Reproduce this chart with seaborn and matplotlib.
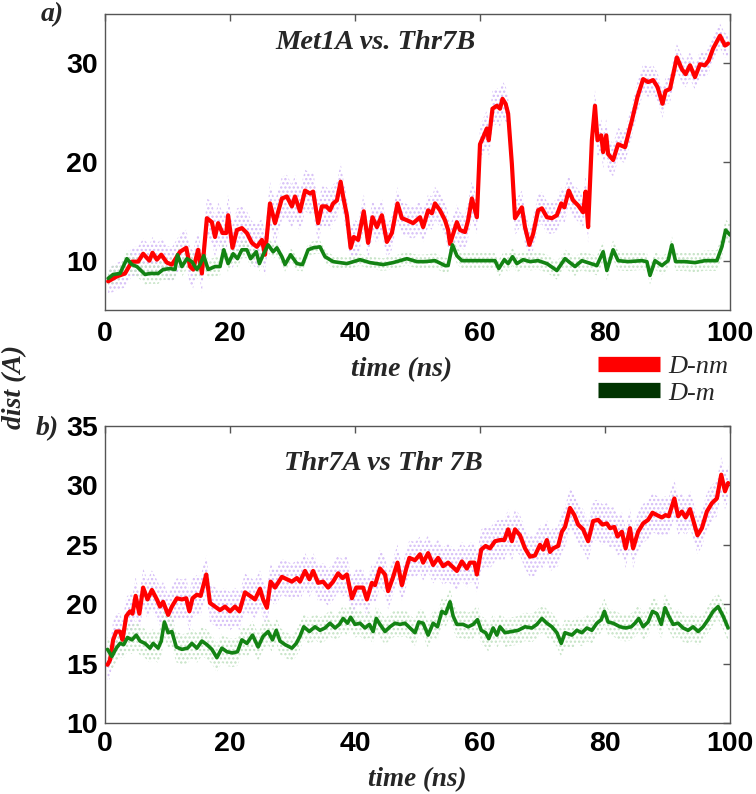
import matplotlib
matplotlib.use('Agg')
import matplotlib.pyplot as plt
import numpy as np
import seaborn as sns
from matplotlib.lines import Line2D

# ---- data (time in ns, distance in A) ----
# panel a) Met1A vs. Thr7B, running average of D-nm (red)
top_nm_t = [
    0.5, 1.9, 3.2, 4.3, 5.3, 6.1, 7.1, 7.6, 8.3, 9.0,
    9.9, 10.7, 12.0, 13.0, 13.6, 14.1, 14.9, 15.5, 16.3, 17.1,
    17.6, 18.1, 18.8, 19.4, 19.7, 20.4, 21.1, 21.9, 22.7, 23.5,
    24.3, 25.1, 25.6, 26.4, 27.2, 28.3, 29.1, 29.9, 30.4, 31.2,
    32.0, 32.8, 33.3, 34.1, 34.7, 35.4, 36.0, 36.5, 37.1, 37.7,
    38.1, 38.7, 39.3, 39.8, 40.5, 41.4, 42.1, 42.8, 43.5, 44.3,
    45.1, 45.9, 46.8, 47.5, 48.3, 49.3, 50.4, 50.9, 51.7, 52.3,
    52.8, 53.6, 54.4, 54.9, 55.2, 55.7, 56.3, 56.8, 57.6, 58.1,
    58.7, 59.5, 60.0, 60.5, 61.1, 61.4, 62.0, 62.7, 63.2, 63.6,
    64.1, 64.5, 65.1, 65.6, 66.1, 66.7, 67.2, 67.9, 68.5, 69.3,
    69.9, 70.7, 71.5, 72.3, 73.0, 73.5, 74.2, 74.9, 75.7, 76.5,
    76.9, 77.3, 77.9, 78.4, 78.8, 79.4, 79.7, 80.2, 80.5, 81.3,
    82.1, 83.2, 84.3, 85.2, 86.1, 86.9, 87.7, 88.4, 89.2, 89.7,
    90.4, 91.5, 92.3, 92.9, 93.6, 94.4, 95.2, 96.0, 96.6, 97.3,
    98.4, 99.2, 99.7]
top_nm_d = [
    7.9, 8.4, 8.7, 9.9, 9.9, 10.7, 10.0, 10.8, 10.1, 10.6,
    9.8, 9.6, 10.9, 11.3, 9.4, 9.1, 11.1, 8.7, 14.3, 13.9,
    12.4, 13.8, 12.8, 12.8, 14.6, 11.3, 13.1, 13.3, 12.8, 11.8,
    11.4, 12.1, 10.6, 15.8, 13.8, 16.3, 16.5, 15.5, 16.5, 15.0,
    17.1, 16.8, 17.0, 13.8, 15.5, 15.5, 15.1, 15.8, 16.1, 18.0,
    16.5, 14.6, 11.3, 12.4, 12.1, 15.0, 11.8, 14.4, 13.4, 14.6,
    11.9, 12.8, 15.8, 14.3, 14.1, 13.8, 14.4, 13.4, 15.1, 14.8,
    15.8, 15.1, 14.1, 13.1, 11.7, 12.7, 13.9, 13.1, 12.9, 14.1,
    16.3, 14.4, 21.8, 22.5, 23.4, 22.2, 25.4, 25.7, 25.4, 26.4,
    25.9, 24.9, 19.8, 14.3, 14.8, 15.4, 13.4, 11.6, 12.7, 15.1,
    15.3, 14.4, 14.3, 14.6, 15.8, 15.4, 17.1, 16.1, 15.6, 14.9,
    17.0, 13.4, 22.2, 25.7, 22.2, 22.7, 21.0, 22.7, 20.8, 20.2,
    21.8, 21.5, 24.2, 26.6, 28.4, 28.1, 28.3, 27.6, 25.9, 27.2,
    27.4, 30.6, 29.4, 28.9, 29.8, 28.6, 29.9, 29.8, 30.3, 31.5,
    32.8, 31.8, 32.0]

# panel a) D-m (green)
top_m_t = [
    0.5, 1.3, 2.4, 3.5, 4.3, 5.1, 5.6, 6.4, 7.2, 8.5,
    9.3, 10.4, 11.2, 11.6, 12.3, 13.1, 13.9, 14.7, 15.2, 15.8,
    16.5, 17.6, 18.4, 19.0, 19.7, 20.5, 21.2, 21.9, 22.7, 23.3,
    24.2, 24.7, 25.3, 26.1, 26.9, 27.5, 28.3, 28.8, 29.7, 30.7,
    31.6, 32.5, 33.3, 34.4, 35.2, 36.5, 38.7, 40.8, 42.4, 44.5,
    46.1, 48.3, 49.9, 51.2, 52.8, 54.4, 54.9, 55.6, 56.3, 57.1,
    58.9, 60.8, 62.4, 63.0, 63.9, 64.5, 65.2, 65.9, 66.9, 68.0,
    69.3, 70.7, 72.3, 73.6, 75.2, 76.3, 78.7, 79.7, 80.3, 81.3,
    82.1, 83.7, 85.9, 86.7, 87.2, 88.0, 89.1, 90.1, 90.7, 91.3,
    92.8, 94.4, 96.0, 97.9, 98.7, 99.3, 100.0]
top_m_d = [
    8.2, 8.6, 8.7, 10.2, 9.6, 9.4, 9.1, 8.6, 8.7, 8.7,
    9.1, 9.2, 9.1, 10.6, 9.4, 10.2, 9.9, 9.1, 9.6, 10.5,
    9.1, 9.4, 9.4, 11.1, 9.7, 10.7, 10.2, 11.1, 11.1, 10.2,
    10.9, 9.7, 10.6, 11.6, 10.9, 11.3, 10.4, 9.6, 10.6, 9.7,
    9.6, 11.1, 11.3, 11.4, 10.4, 9.9, 9.7, 10.1, 9.8, 9.6,
    9.8, 10.2, 9.9, 9.9, 10.0, 9.5, 9.5, 11.6, 10.5, 10.0,
    10.0, 10.0, 10.0, 9.2, 10.1, 9.7, 10.4, 9.7, 10.1, 9.9,
    10.0, 9.7, 9.0, 10.2, 9.4, 10.0, 9.5, 10.9, 9.0, 11.1,
    10.0, 9.9, 10.0, 9.9, 8.5, 10.0, 9.5, 10.0, 11.6, 9.9,
    9.9, 9.8, 10.0, 10.0, 11.4, 13.1, 12.6]

# panel b) Thr7A vs Thr 7B, D-nm (red)
bot_nm_t = [
    0.4, 0.8, 1.3, 1.8, 2.4, 2.8, 3.4, 4.0, 4.4, 4.9,
    5.5, 6.1, 6.8, 7.5, 8.3, 8.8, 9.3, 10.1, 10.7, 11.5,
    12.3, 13.0, 13.5, 14.0, 14.7, 15.3, 16.2, 16.8, 17.6, 18.4,
    19.2, 20.0, 20.8, 21.5, 22.4, 23.2, 24.0, 24.8, 25.3, 25.9,
    26.5, 27.2, 28.3, 29.1, 29.9, 30.7, 31.2, 32.0, 32.7, 33.3,
    34.1, 34.9, 35.7, 36.5, 37.3, 38.0, 38.7, 39.5, 40.2, 41.3,
    41.9, 42.7, 43.2, 44.0, 44.8, 45.3, 46.1, 46.8, 47.5, 48.2,
    48.7, 49.6, 50.4, 50.9, 51.7, 52.5, 53.3, 54.1, 54.9, 55.5,
    56.3, 57.1, 57.9, 58.4, 59.1, 59.5, 60.2, 60.9, 61.6, 62.4,
    63.2, 63.9, 64.5, 65.1, 65.6, 66.4, 67.2, 68.0, 68.8, 69.6,
    70.1, 70.7, 71.2, 71.7, 72.5, 73.1, 73.6, 74.4, 75.1, 75.7,
    76.5, 77.3, 78.1, 78.9, 79.6, 80.3, 80.8, 81.5, 82.0, 82.7,
    83.3, 84.0, 84.5, 85.3, 86.1, 86.9, 87.6, 88.3, 89.1, 89.7,
    90.2, 91.1, 91.7, 92.3, 92.9, 93.6, 94.1, 94.8, 95.5, 96.3,
    97.1, 97.9, 98.6, 99.2, 99.7]
bot_nm_d = [
    14.9, 15.3, 17.0, 17.7, 17.7, 17.0, 19.0, 19.4, 19.2, 20.7,
    19.2, 21.4, 20.4, 21.2, 20.4, 19.8, 20.2, 19.1, 19.8, 20.5,
    20.4, 20.5, 19.4, 20.5, 20.8, 20.7, 22.5, 20.1, 19.8, 19.5,
    19.8, 19.4, 19.8, 19.4, 21.0, 20.7, 20.4, 21.3, 20.4, 19.7,
    21.9, 21.4, 22.3, 22.1, 21.9, 22.2, 21.9, 22.8, 22.1, 22.8,
    21.8, 21.9, 21.4, 21.9, 22.6, 22.2, 22.5, 20.5, 21.4, 21.4,
    20.4, 21.8, 21.6, 23.0, 22.5, 21.1, 22.3, 23.5, 21.6, 23.0,
    23.9, 23.7, 24.2, 23.5, 24.3, 23.3, 23.9, 23.2, 23.5, 23.2,
    22.8, 23.6, 23.0, 23.5, 23.5, 22.5, 24.6, 24.9, 24.7, 25.3,
    25.4, 25.4, 26.3, 25.3, 26.3, 25.8, 24.7, 24.0, 24.1, 25.0,
    24.6, 25.4, 24.4, 24.7, 24.9, 26.1, 26.5, 28.1, 27.5, 26.7,
    26.3, 25.3, 27.0, 27.1, 26.7, 26.8, 26.4, 26.5, 25.7, 26.1,
    24.7, 26.4, 24.7, 26.1, 26.8, 27.1, 27.7, 27.5, 27.3, 27.5,
    27.4, 28.9, 27.4, 27.8, 27.3, 28.0, 27.1, 25.8, 26.4, 27.8,
    28.5, 28.9, 30.9, 29.5, 30.2]

# panel b) D-m (green)
bot_m_t = [
    0.4, 1.1, 1.8, 2.4, 3.0, 3.6, 4.3, 5.0, 5.6, 6.4,
    7.2, 7.7, 8.5, 9.0, 9.5, 10.1, 10.7, 11.4, 12.3, 13.2,
    13.9, 14.7, 15.5, 16.3, 17.1, 17.9, 18.7, 19.5, 20.4, 21.2,
    21.9, 22.7, 23.6, 24.5, 25.3, 26.1, 26.8, 27.4, 28.0, 28.8,
    29.9, 30.6, 31.2, 31.8, 32.7, 33.6, 34.4, 35.2, 36.0, 36.8,
    37.5, 38.1, 38.8, 39.3, 40.0, 40.8, 41.6, 42.3, 42.9, 43.4,
    44.0, 44.8, 45.6, 46.4, 47.2, 48.0, 48.8, 49.6, 50.2, 50.9,
    51.7, 52.5, 53.2, 53.9, 54.5, 55.2, 55.7, 56.3, 57.3, 58.1,
    58.9, 59.6, 60.2, 60.9, 61.4, 62.1, 62.7, 63.2, 64.0, 65.1,
    66.1, 67.2, 68.3, 69.1, 69.9, 70.7, 71.5, 72.3, 73.0, 73.6,
    74.7, 75.5, 76.3, 77.1, 77.9, 78.7, 79.4, 79.9, 80.5, 81.3,
    82.4, 83.3, 84.2, 84.8, 85.4, 86.1, 86.9, 87.6, 88.3, 89.0,
    89.6, 90.2, 90.9, 91.7, 92.5, 93.3, 94.1, 94.9, 95.7, 96.5,
    97.3, 98.1, 98.9, 99.7]
bot_m_d = [
    16.2, 15.6, 16.3, 16.7, 16.6, 17.2, 17.0, 17.4, 16.9, 16.7,
    16.3, 16.7, 16.3, 16.9, 18.5, 17.6, 17.7, 16.4, 16.2, 16.3,
    16.7, 16.3, 16.9, 16.6, 16.2, 15.5, 16.3, 16.0, 15.9, 16.0,
    17.0, 16.7, 17.4, 16.4, 17.3, 17.7, 17.0, 17.8, 16.9, 16.6,
    16.3, 16.7, 17.3, 18.1, 17.7, 18.1, 17.8, 18.0, 18.4, 18.0,
    18.3, 18.8, 18.4, 18.9, 18.3, 18.4, 18.0, 18.3, 17.7, 18.8,
    18.3, 17.7, 18.1, 18.4, 18.3, 18.4, 18.0, 17.6, 18.5, 18.4,
    17.4, 18.4, 18.1, 19.4, 19.2, 20.2, 19.0, 18.3, 18.3, 18.1,
    18.3, 18.7, 17.8, 17.6, 17.1, 18.0, 17.4, 18.1, 17.6, 17.7,
    17.8, 18.1, 18.0, 18.3, 18.8, 18.4, 18.1, 17.6, 16.7, 17.6,
    17.4, 17.8, 17.6, 18.0, 17.8, 18.4, 18.7, 19.4, 18.5, 18.4,
    18.1, 18.0, 18.1, 18.4, 18.8, 18.1, 18.5, 19.4, 19.2, 18.3,
    19.7, 19.0, 18.3, 18.4, 18.0, 17.8, 18.1, 17.7, 18.1, 18.7,
    19.4, 19.8, 19.0, 18.0]

# half-width of the raw (dotted) data cloud around each running average
spread_t = [0, 10, 20, 30, 40, 50, 60, 70, 80, 90, 100]
top_nm_spread = [1.3, 1.7, 2.2, 2.2, 1.8, 1.6, 1.9, 1.6, 1.7, 1.4, 1.2]
top_m_spread = [0.9, 1.1, 0.9, 0.7, 0.6, 0.7, 0.9, 0.9, 1.0, 0.9, 1.1]
bot_nm_spread = [1.5, 1.7, 1.6, 1.5, 1.6, 1.5, 1.7, 1.7, 1.7, 1.6, 1.5]
bot_m_spread = [1.1, 1.3, 1.2, 1.1, 1.1, 1.1, 1.2, 1.2, 1.1, 1.2, 1.1]

SERIF = 'Liberation Serif'
SANS = 'Liberation Sans'
RED = '#ff0000'
GREEN = '#138313'
LEG_GREEN = '#003300'
DOT_RED = '#d4bbf7'
DOT_GREEN = '#c3e2c3'
SPINE = '#555555'

sns.set_theme(style='white')
plt.rcParams['font.family'] = [SANS, 'DejaVu Sans']
plt.rcParams['hatch.linewidth'] = 1.1


def draw_panel(ax, nm_t, nm_d, nm_w, m_t, m_d, m_w, ylim, yticks, xpad):
    # raw data cloud as a dotted band
    for t, d, w, c in [(nm_t, nm_d, nm_w, DOT_RED), (m_t, m_d, m_w, DOT_GREEN)]:
        t, d = np.asarray(t), np.asarray(d)
        half = np.interp(t, spread_t, w)
        ax.fill_between(t, d - half, d + half, facecolor='none',
                        edgecolor=c, hatch='....', linewidth=0, zorder=1)
    sns.lineplot(x=nm_t, y=nm_d, ax=ax, color=RED, lw=3.0,
                 sort=False, estimator=None, zorder=3)
    sns.lineplot(x=m_t, y=m_d, ax=ax, color=GREEN, lw=2.6,
                 sort=False, estimator=None, zorder=4)
    ax.set_xlim(0, 100)
    ax.set_ylim(*ylim)
    ax.set_xticks(range(0, 101, 20))
    ax.set_yticks(yticks)
    ax.tick_params(direction='in', top=True, right=True, length=5, width=1,
                   color=SPINE, labelsize=20.5, labelcolor='black')
    ax.tick_params(axis='x', pad=xpad)
    ax.tick_params(axis='y', pad=5)
    for lab in ax.get_xticklabels() + ax.get_yticklabels():
        lab.set_fontweight('bold')
    for s in ax.spines.values():
        s.set_color(SPINE)
        s.set_linewidth(1)
    ax.set_xlabel('')
    ax.set_ylabel('')


fig = plt.figure(figsize=(7.56, 7.94), dpi=100)
ax1 = fig.add_axes([0.1389, 0.6096, 0.8267, 0.3728])
ax2 = fig.add_axes([0.1389, 0.0894, 0.8267, 0.3741])

draw_panel(ax1, top_nm_t, top_nm_d, top_nm_spread, top_m_t, top_m_d,
           top_m_spread, (5, 35), [10, 20, 30], 8)
draw_panel(ax2, bot_nm_t, bot_nm_d, bot_nm_spread, bot_m_t, bot_m_d,
           bot_m_spread, (10, 35), [10, 15, 20, 25, 30, 35], 6)

bi = dict(family=SERIF, style='italic', weight='bold')
ax1.text(0.432, 0.905, 'Met1A vs. Thr7B', transform=ax1.transAxes,
         ha='center', va='center', fontsize=20.5, **bi)
ax2.text(0.446, 0.875, 'Thr7A vs Thr 7B', transform=ax2.transAxes,
         ha='center', va='center', fontsize=20.5, **bi)
ax1.text(0.475, -0.203, 'time (ns)', transform=ax1.transAxes,
         ha='center', va='center', fontsize=20, **bi)
ax2.text(0.5, -0.192, 'time (ns)', transform=ax2.transAxes,
         ha='center', va='center', fontsize=19.5, **bi)

fig.text(0.019, 0.513, 'dist (A)', rotation=90, ha='center', va='center',
         fontsize=20, **bi)
fig.text(0.0688, 0.981, 'a)', ha='center', va='center', fontsize=20, **bi)
fig.text(0.0622, 0.4597, 'b)', ha='center', va='center', fontsize=20, **bi)

handles = [Line2D([], [], color=RED, lw=11, solid_capstyle='butt'),
           Line2D([], [], color=LEG_GREEN, lw=11, solid_capstyle='butt')]
fig.legend(handles, ['D-nm', 'D-m'], loc='upper left',
           bbox_to_anchor=(0.791, 0.553), frameon=False,
           prop=dict(family=SERIF, style='italic', size=19),
           handlelength=2.35, handletextpad=0.3, labelspacing=0.1,
           borderpad=0, borderaxespad=0)

fig.savefig('out.png', dpi=100)
